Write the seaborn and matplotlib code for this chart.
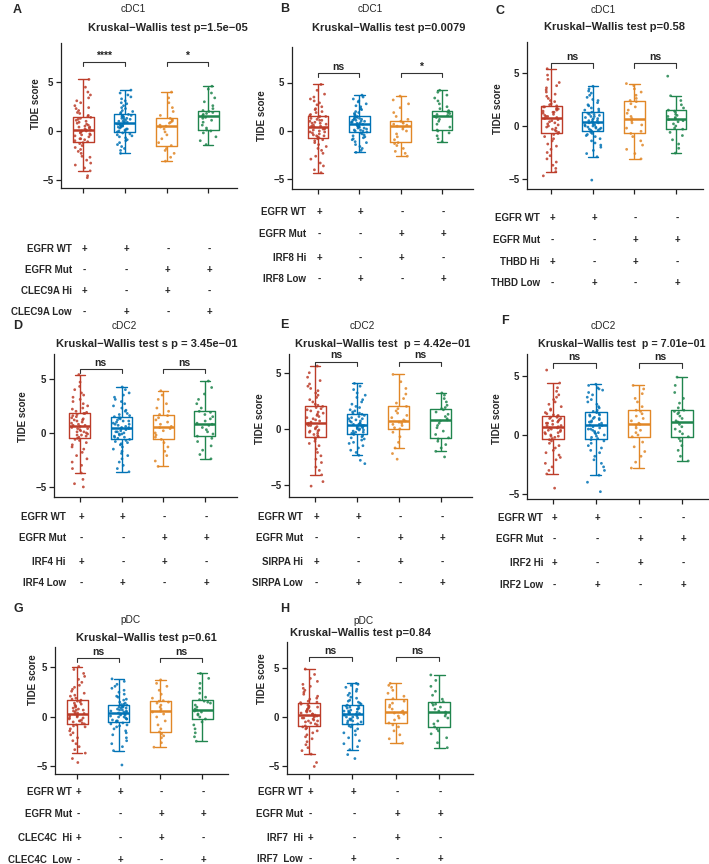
import numpy as np
import pandas as pd
import matplotlib
matplotlib.use("Agg")
import matplotlib.pyplot as plt
import matplotlib.transforms as mtransforms
import seaborn as sns

sns.set_theme(style="ticks")
plt.rcParams["font.family"] = ["Liberation Sans", "DejaVu Sans"]
plt.rcParams["axes.unicode_minus"] = True

# ---------------- data ----------------
groups = ["WT_Hi", "WT_Low", "Mut_Hi", "Mut_Low"]
colors = ["#BC3C29", "#0072B5", "#E18727", "#20854E"]

panel_letters = ["A", "B", "C", "D", "E", "F", "G", "H"]
cell_types = ["cDC1", "cDC1", "cDC1", "cDC2", "cDC2", "cDC2", "pDC", "pDC"]
kw_texts = [
    "Kruskal\u2212Wallis test p=1.5e\u221205",
    "Kruskal\u2212Wallis test p=0.0079",
    "Kruskal\u2212Wallis test p=0.58",
    "Kruskal\u2212Wallis test s p = 3.45e\u221201",
    "Kruskal\u2212Wallis test  p = 4.42e\u221201",
    "Kruskal\u2212Wallis test  p = 7.01e\u221201",
    "Kruskal\u2212Wallis test p=0.61",
    "Kruskal\u2212Wallis test p=0.84",
]
sig_left = ["****", "ns", "ns", "ns", "ns", "ns", "ns", "ns"]
sig_right = ["*", "*", "ns", "ns", "ns", "ns", "ns", "ns"]
hi_labels = ["CLEC9A Hi", "IRF8 Hi", "THBD Hi", "IRF4 Hi", "SIRPA Hi", "IRF2 Hi", "CLEC4C  Hi", "IRF7  Hi"]
low_labels = ["CLEC9A Low", "IRF8 Low", "THBD Low", "IRF4 Low", "SIRPA Low", "IRF2 Low", "CLEC4C  Low", "IRF7  Low"]
signs_wt = ["+", "+", "-", "-"]
signs_mut = ["-", "-", "+", "+"]
signs_hi = ["+", "-", "+", "-"]
signs_low = ["-", "+", "-", "+"]

# box five-number summaries [lower whisker, Q1, median, Q3, upper whisker]
box_A = [[-4.1, -1.1, 0.1, 1.4, 5.3], [-2.3, -0.1, 0.8, 1.7, 4.2], [-3.1, -1.5, 0.5, 1.3, 4.0], [-1.4, 0.1, 1.5, 2.1, 4.6]]
box_B = [[-4.3, -0.75, 0.4, 1.55, 4.8], [-2.2, -0.15, 0.7, 1.5, 3.7], [-2.6, -1.15, 0.5, 1.0, 3.6], [-1.1, 0.1, 1.55, 2.05, 4.2]]
box_C = [[-4.35, -0.7, 0.8, 1.9, 5.4], [-2.9, -0.45, 0.35, 1.3, 3.75], [-3.1, -0.7, 0.7, 2.4, 4.0], [-2.55, -0.3, 0.7, 1.5, 2.85]]
box_D = [[-3.7, -0.5, 0.6, 1.85, 5.4], [-3.6, -0.6, 0.45, 1.5, 4.25], [-3.1, -0.6, 0.55, 1.7, 3.9], [-2.4, -0.3, 0.8, 2.0, 4.8]]
box_E = [[-4.1, -0.7, 0.55, 2.0, 5.6], [-2.35, -0.5, 0.35, 1.35, 4.05], [-1.7, 0.0, 0.7, 2.0, 4.85], [-2.0, -0.8, 0.75, 1.8, 3.2]]
box_F = [[-3.3, -0.3, 0.7, 1.65, 4.4], [-3.4, -0.3, 0.85, 1.95, 4.3], [-2.8, -0.15, 0.9, 2.1, 4.2], [-2.2, -0.15, 1.1, 2.1, 4.9]]
box_G = [[-3.65, -0.7, 0.35, 1.7, 5.1], [-3.4, -0.55, 0.4, 1.25, 3.85], [-3.05, -1.5, 0.6, 1.65, 3.75], [-2.45, -0.2, 0.7, 1.75, 4.4]]
box_H = [[-3.75, -0.9, 0.2, 1.45, 4.85], [-3.3, -0.7, 0.35, 1.2, 3.4], [-2.65, -0.6, 0.5, 1.85, 3.4], [-3.1, -1.0, 0.5, 1.55, 4.25]]

# individual TIDE scores
A_wt_hi = [-4.8, -4.6, -4.1, -3.8, -3.5, -3.3, -3.0, -2.7, -2.6, -2.3, -2.1, -1.9, -1.7, -1.5, -1.3, -1.2,
           -1.1, -1.0, -0.9, -0.8, -0.8, -0.6, -0.5, -0.4, -0.4, -0.3, -0.2, -0.1, 0.0, 0.0, 0.1,
           0.1, 0.2, 0.3, 0.4, 0.4, 0.5, 0.6, 0.7, 0.8, 0.9, 1.0, 1.1, 1.2, 1.3, 1.4,
           1.5, 1.6, 1.8, 1.9, 2.1, 2.3, 2.4, 2.6, 2.9, 3.1, 3.4, 3.7, 4.0, 4.5, 5.3]
A_wt_low = [-2.3, -2.0, -1.8, -1.6, -1.4, -1.2, -1.0, -0.9, -0.7, -0.6, -0.5, -0.4, -0.3, -0.2, -0.1,
            0.0, 0.0, 0.1, 0.2, 0.2, 0.3, 0.4, 0.4, 0.5, 0.5, 0.6, 0.6, 0.7, 0.7, 0.8,
            0.9, 0.9, 1.0, 1.0, 1.1, 1.2, 1.2, 1.3, 1.3, 1.4, 1.5, 1.5, 1.6, 1.6, 1.7,
            1.8, 1.9, 2.0, 2.1, 2.3, 2.4, 2.6, 2.8, 2.9, 3.1, 3.3, 3.5, 3.7, 3.9, 4.2]
A_mut_hi = [-3.1, -2.7, -2.3, -2.0, -1.8, -1.5, -1.2, -0.8, -0.4, -0.1, 0.2, 0.4, 0.5, 0.6, 0.8, 0.9, 1.0,
            1.1, 1.2, 1.3, 1.6, 2.0, 2.4, 2.9, 3.4, 4.0]
A_mut_low = [-1.4, -1.0, -0.6, -0.2, 0.0, 0.1, 0.3, 0.6, 0.9, 1.1, 1.3, 1.4, 1.5, 1.6, 1.7, 1.8, 1.9,
             2.0, 2.1, 2.3, 2.6, 3.0, 3.4, 3.9, 4.3, 4.6]

B_wt_hi = [-4.3, -4.0, -3.6, -3.3, -2.9, -2.6, -2.3, -2.0, -1.8, -1.6, -1.4, -1.2, -1.0, -0.9, -0.8,
           -0.7, -0.6, -0.5, -0.5, -0.4, -0.3, -0.2, -0.1, -0.1, 0.0, 0.1, 0.2, 0.2, 0.3, 0.4,
           0.5, 0.5, 0.6, 0.7, 0.8, 0.8, 0.9, 1.0, 1.1, 1.1, 1.2, 1.3, 1.4, 1.5, 1.5,
           1.6, 1.7, 1.9, 2.0, 2.2, 2.3, 2.5, 2.7, 2.9, 3.1, 3.3, 3.5, 3.8, 4.2, 4.8]
B_wt_low = [-2.2, -2.0, -1.8, -1.6, -1.4, -1.2, -1.1, -0.9, -0.8, -0.7, -0.6, -0.5, -0.4, -0.3, -0.2,
            -0.1, 0.0, 0.0, 0.1, 0.1, 0.2, 0.3, 0.3, 0.4, 0.4, 0.5, 0.5, 0.6, 0.6, 0.7,
            0.8, 0.8, 0.9, 0.9, 1.0, 1.0, 1.1, 1.1, 1.2, 1.2, 1.3, 1.3, 1.4, 1.4, 1.5,
            1.6, 1.7, 1.8, 1.9, 2.0, 2.2, 2.3, 2.5, 2.6, 2.8, 3.0, 3.1, 3.3, 3.5, 3.7]
B_mut_hi = [-2.6, -2.3, -2.1, -1.8, -1.5, -1.3, -1.2, -0.9, -0.6, -0.3, 0.0, 0.2, 0.4, 0.5, 0.6, 0.7, 0.8,
            0.9, 1.0, 1.2, 1.5, 1.9, 2.4, 2.8, 3.2, 3.6]
B_mut_low = [-1.1, -0.8, -0.5, -0.2, 0.0, 0.1, 0.4, 0.7, 1.0, 1.2, 1.4, 1.5, 1.6, 1.7, 1.8, 1.9, 2.0,
             2.1, 2.3, 2.5, 2.8, 3.1, 3.4, 3.7, 4.0, 4.2]

C_wt_hi = [-4.7, -4.3, -4.0, -3.7, -3.4, -3.1, -2.8, -2.5, -2.2, -1.9, -1.7, -1.4, -1.2, -1.0, -0.8, -0.7,
           -0.6, -0.5, -0.4, -0.3, -0.2, -0.1, 0.0, 0.1, 0.2, 0.3, 0.4, 0.5, 0.6, 0.7, 0.8,
           0.9, 0.9, 1.0, 1.1, 1.2, 1.3, 1.3, 1.4, 1.5, 1.6, 1.6, 1.7, 1.8, 1.8, 1.9,
           2.0, 2.1, 2.3, 2.4, 2.6, 2.8, 3.0, 3.2, 3.4, 3.6, 3.8, 4.1, 4.4, 4.8, 5.4]
C_wt_low = [-5.1, -2.9, -2.6, -2.3, -2.0, -1.8, -1.6, -1.4, -1.2, -1.0, -0.9, -0.8, -0.7, -0.6, -0.5,
            -0.4, -0.4, -0.3, -0.3, -0.2, -0.2, -0.1, -0.1, 0.0, 0.0, 0.1, 0.1, 0.2, 0.3, 0.3,
            0.4, 0.4, 0.5, 0.5, 0.6, 0.7, 0.7, 0.8, 0.9, 0.9, 1.0, 1.1, 1.1, 1.2, 1.3,
            1.4, 1.5, 1.6, 1.7, 1.9, 2.0, 2.2, 2.4, 2.5, 2.7, 2.9, 3.1, 3.3, 3.5, 3.75]
C_mut_hi = [-3.1, -2.6, -2.2, -1.8, -1.4, -1.0, -0.7, -0.5, -0.2, 0.1, 0.3, 0.5, 0.7, 0.9, 1.2, 1.5, 1.8,
            2.1, 2.3, 2.4, 2.6, 2.9, 3.2, 3.5, 3.8, 4.0]
C_mut_low = [-2.55, -2.1, -1.7, -1.3, -0.9, -0.6, -0.3, -0.2, 0.0, 0.2, 0.4, 0.5, 0.6, 0.7, 0.8, 0.9, 1.0,
             1.1, 1.3, 1.4, 1.5, 1.7, 2.0, 2.4, 2.85, 4.7]

D_wt_hi = [-5.0, -4.7, -4.3, -3.7, -3.3, -3.0, -2.7, -2.4, -2.1, -1.8, -1.5, -1.3, -1.1, -0.9, -0.7, -0.6,
           -0.5, -0.4, -0.3, -0.2, -0.2, -0.1, 0.0, 0.1, 0.1, 0.2, 0.3, 0.4, 0.4, 0.5, 0.6,
           0.7, 0.7, 0.8, 0.9, 1.0, 1.1, 1.2, 1.2, 1.3, 1.4, 1.5, 1.6, 1.7, 1.8, 1.8,
           1.9, 2.0, 2.2, 2.3, 2.5, 2.7, 2.9, 3.1, 3.3, 3.5, 3.7, 4.0, 4.3, 4.7, 5.4]
D_wt_low = [-3.6, -3.3, -3.0, -2.7, -2.4, -2.1, -1.9, -1.7, -1.5, -1.3, -1.1, -1.0, -0.9, -0.8, -0.7,
            -0.6, -0.5, -0.4, -0.4, -0.3, -0.2, -0.1, -0.1, 0.0, 0.1, 0.1, 0.2, 0.3, 0.4, 0.4,
            0.5, 0.5, 0.6, 0.7, 0.8, 0.8, 0.9, 1.0, 1.1, 1.1, 1.2, 1.3, 1.4, 1.4, 1.5,
            1.6, 1.7, 1.8, 2.0, 2.1, 2.3, 2.5, 2.7, 2.9, 3.1, 3.3, 3.5, 3.7, 4.0, 4.25]
D_mut_hi = [-3.1, -2.6, -2.1, -1.7, -1.3, -0.9, -0.6, -0.4, -0.2, 0.0, 0.2, 0.4, 0.5, 0.6, 0.8, 1.0, 1.2,
            1.4, 1.6, 1.7, 2.0, 2.3, 2.7, 3.1, 3.5, 3.9]
D_mut_low = [-2.4, -2.0, -1.6, -1.2, -0.8, -0.5, -0.3, -0.1, 0.1, 0.3, 0.5, 0.7, 0.8, 0.9, 1.1, 1.3, 1.5,
             1.7, 1.9, 2.0, 2.3, 2.7, 3.1, 3.6, 4.2, 4.8]

E_wt_hi = [-5.1, -4.7, -4.1, -3.7, -3.4, -3.0, -2.7, -2.4, -2.1, -1.8, -1.5, -1.3, -1.1, -0.9, -0.8,
           -0.7, -0.6, -0.5, -0.4, -0.3, -0.2, -0.2, -0.1, 0.0, 0.1, 0.2, 0.3, 0.3, 0.4, 0.5,
           0.6, 0.7, 0.8, 0.9, 1.0, 1.1, 1.2, 1.3, 1.4, 1.5, 1.6, 1.7, 1.8, 1.9, 2.0,
           2.1, 2.2, 2.4, 2.6, 2.8, 3.0, 3.2, 3.4, 3.6, 3.8, 4.0, 4.3, 4.6, 5.0, 5.6]
E_wt_low = [-3.1, -2.8, -2.35, -2.1, -1.9, -1.7, -1.5, -1.3, -1.2, -1.0, -0.9, -0.8, -0.7, -0.6, -0.5,
            -0.4, -0.4, -0.3, -0.3, -0.2, -0.1, -0.1, 0.0, 0.0, 0.1, 0.1, 0.2, 0.2, 0.3, 0.3,
            0.4, 0.4, 0.5, 0.5, 0.6, 0.7, 0.7, 0.8, 0.9, 0.9, 1.0, 1.1, 1.2, 1.3, 1.35,
            1.4, 1.5, 1.6, 1.7, 1.9, 2.0, 2.2, 2.4, 2.6, 2.8, 3.0, 3.2, 3.5, 3.8, 4.05]
E_mut_hi = [-2.7, -2.2, -1.7, -1.2, -0.7, -0.3, 0.0, 0.1, 0.3, 0.4, 0.5, 0.6, 0.7, 0.8, 1.0, 1.2, 1.4,
            1.6, 1.8, 2.0, 2.3, 2.7, 3.1, 3.6, 4.2, 4.85]
E_mut_low = [-2.5, -2.0, -1.7, -1.4, -1.1, -0.9, -0.8, -0.5, -0.2, 0.1, 0.3, 0.5, 0.7, 0.8, 0.9, 1.1, 1.3,
             1.5, 1.7, 1.8, 1.9, 2.1, 2.4, 2.7, 3.0, 3.2]

F_wt_hi = [-4.5, -3.3, -3.0, -2.7, -2.4, -2.1, -1.9, -1.7, -1.5, -1.3, -1.1, -0.9, -0.7, -0.5, -0.4,
           -0.3, -0.2, -0.1, -0.1, 0.0, 0.1, 0.2, 0.2, 0.3, 0.4, 0.4, 0.5, 0.6, 0.6, 0.7,
           0.8, 0.8, 0.9, 1.0, 1.0, 1.1, 1.2, 1.2, 1.3, 1.4, 1.4, 1.5, 1.5, 1.6, 1.65,
           1.7, 1.8, 1.9, 2.1, 2.2, 2.4, 2.6, 2.8, 3.0, 3.2, 3.4, 3.7, 4.0, 4.4, 5.5]
F_wt_low = [-4.8, -4.0, -3.4, -3.0, -2.7, -2.4, -2.1, -1.8, -1.5, -1.3, -1.1, -0.9, -0.7, -0.5, -0.4,
            -0.3, -0.2, -0.1, 0.0, 0.1, 0.2, 0.2, 0.3, 0.4, 0.5, 0.5, 0.6, 0.7, 0.8, 0.85,
            0.9, 1.0, 1.1, 1.1, 1.2, 1.3, 1.4, 1.4, 1.5, 1.6, 1.7, 1.7, 1.8, 1.9, 1.95,
            2.0, 2.1, 2.3, 2.4, 2.6, 2.8, 3.0, 3.2, 3.4, 3.6, 3.8, 3.9, 4.0, 4.2, 4.3]
F_mut_hi = [-2.8, -2.3, -1.8, -1.4, -1.0, -0.6, -0.15, 0.0, 0.2, 0.4, 0.6, 0.8, 0.9, 1.0, 1.2, 1.4, 1.6,
            1.8, 2.0, 2.1, 2.4, 2.8, 3.1, 3.5, 3.9, 4.2]
F_mut_low = [-2.2, -1.8, -1.3, -0.9, -0.5, -0.3, -0.15, 0.1, 0.3, 0.5, 0.7, 0.9, 1.1, 1.2, 1.4, 1.6, 1.8,
             1.9, 2.0, 2.1, 2.3, 2.7, 3.1, 3.6, 4.2, 4.9]

G_wt_hi = [-4.6, -4.2, -3.65, -3.3, -3.0, -2.7, -2.4, -2.1, -1.8, -1.6, -1.4, -1.2, -1.0, -0.9, -0.8,
           -0.7, -0.6, -0.5, -0.4, -0.4, -0.3, -0.2, -0.1, -0.1, 0.0, 0.1, 0.1, 0.2, 0.3, 0.35,
           0.4, 0.5, 0.6, 0.7, 0.7, 0.8, 0.9, 1.0, 1.1, 1.2, 1.3, 1.4, 1.5, 1.6, 1.7,
           1.8, 1.9, 2.1, 2.2, 2.4, 2.6, 2.8, 3.0, 3.2, 3.5, 3.8, 4.1, 4.4, 4.8, 5.1]
G_wt_low = [-4.85, -3.4, -3.0, -2.7, -2.4, -2.1, -1.8, -1.6, -1.4, -1.2, -1.0, -0.9, -0.8, -0.7, -0.6,
            -0.5, -0.4, -0.4, -0.3, -0.2, -0.2, -0.1, 0.0, 0.0, 0.1, 0.2, 0.2, 0.3, 0.3, 0.4,
            0.5, 0.5, 0.6, 0.6, 0.7, 0.7, 0.8, 0.9, 0.9, 1.0, 1.0, 1.1, 1.1, 1.2, 1.25,
            1.3, 1.4, 1.5, 1.7, 1.8, 2.0, 2.1, 2.3, 2.5, 2.7, 2.9, 3.1, 3.3, 3.6, 3.85]
G_mut_hi = [-3.05, -2.6, -2.1, -1.9, -1.7, -1.5, -1.2, -0.8, -0.4, 0.0, 0.3, 0.5, 0.6, 0.8, 1.0, 1.2, 1.4,
            1.5, 1.6, 1.65, 1.9, 2.3, 2.7, 3.1, 3.4, 3.75]
G_mut_low = [-2.45, -2.0, -1.6, -1.2, -0.8, -0.5, -0.2, 0.0, 0.2, 0.3, 0.5, 0.6, 0.7, 0.8, 1.0, 1.2, 1.4,
             1.5, 1.6, 1.75, 2.0, 2.4, 2.9, 3.4, 3.9, 4.4]

H_wt_hi = [-5.0, -4.6, -3.75, -3.4, -3.1, -2.8, -2.5, -2.2, -2.0, -1.8, -1.6, -1.4, -1.2, -1.1, -1.0,
           -0.9, -0.8, -0.7, -0.6, -0.5, -0.4, -0.4, -0.3, -0.2, -0.1, -0.1, 0.0, 0.1, 0.1, 0.2,
           0.3, 0.3, 0.4, 0.5, 0.6, 0.6, 0.7, 0.8, 0.9, 1.0, 1.0, 1.1, 1.2, 1.3, 1.45,
           1.5, 1.6, 1.8, 1.9, 2.1, 2.3, 2.5, 2.7, 2.9, 3.1, 3.3, 3.6, 3.9, 4.3, 4.85]
H_wt_low = [-4.2, -3.8, -3.3, -3.0, -2.7, -2.4, -2.1, -1.8, -1.6, -1.4, -1.2, -1.0, -0.9, -0.8, -0.7,
            -0.6, -0.5, -0.4, -0.4, -0.3, -0.2, -0.2, -0.1, 0.0, 0.0, 0.1, 0.2, 0.2, 0.3, 0.35,
            0.4, 0.4, 0.5, 0.5, 0.6, 0.6, 0.7, 0.8, 0.8, 0.9, 0.9, 1.0, 1.1, 1.1, 1.2,
            1.3, 1.4, 1.5, 1.6, 1.7, 1.9, 2.0, 2.2, 2.4, 2.6, 2.8, 3.0, 3.2, 3.3, 3.4]
H_mut_hi = [-2.65, -2.2, -1.8, -1.4, -1.0, -0.8, -0.6, -0.3, -0.1, 0.1, 0.3, 0.4, 0.5, 0.6, 0.8, 1.0, 1.2,
            1.4, 1.6, 1.85, 2.1, 2.4, 2.7, 3.0, 3.2, 3.4]
H_mut_low = [-3.1, -2.6, -2.1, -1.7, -1.4, -1.2, -1.0, -0.7, -0.4, -0.1, 0.1, 0.3, 0.5, 0.6, 0.8, 1.0, 1.2,
             1.3, 1.4, 1.55, 1.8, 2.2, 2.6, 3.1, 3.7, 4.25]

box_stats = [box_A, box_B, box_C, box_D, box_E, box_F, box_G, box_H]
point_sets = [
    [A_wt_hi, A_wt_low, A_mut_hi, A_mut_low],
    [B_wt_hi, B_wt_low, B_mut_hi, B_mut_low],
    [C_wt_hi, C_wt_low, C_mut_hi, C_mut_low],
    [D_wt_hi, D_wt_low, D_mut_hi, D_mut_low],
    [E_wt_hi, E_wt_low, E_mut_hi, E_mut_low],
    [F_wt_hi, F_wt_low, F_mut_hi, F_mut_low],
    [G_wt_hi, G_wt_low, G_mut_hi, G_mut_low],
    [H_wt_hi, H_wt_low, H_mut_hi, H_mut_low],
]

# ---------------- layout (pixels) ----------------
W, H = 709, 864
layouts = [
    dict(ax=(61, 43, 237, 188), xlim=(-0.53, 3.69), ylim=(-5.86, 9.04), letter=(13, 4), sub=(133, 9),
         kw=(168, 28), kws=8.0, ylab=(36, 104), tr=72, rows=(249, 270, 291, 312), br=7.1),
    dict(ax=(292, 47, 473, 189), xlim=(-0.63, 3.75), ylim=(-5.98, 8.66), letter=(280, 3), sub=(370, 9),
         kw=(389, 28), kws=8.0, ylab=(262, 116), tr=306, rows=(212, 234, 258, 279), br=6.0),
    dict(ax=(527, 42, 703, 189), xlim=(-0.58, 3.65), ylim=(-5.94, 7.92), letter=(495, 5), sub=(603, 10),
         kw=(614, 27), kws=8.0, ylab=(498, 109), tr=540, rows=(218, 240, 262, 283), br=5.9),
    dict(ax=(54, 354, 237, 497), xlim=(-0.62, 3.77), ylim=(-5.93, 7.3), letter=(13, 320), sub=(124, 326),
         kw=(147, 344), kws=8.0, ylab=(23, 417), tr=66, rows=(517, 538, 562, 583), br=5.9),
    dict(ax=(289, 354, 472, 497), xlim=(-0.62, 3.74), ylim=(-6.07, 6.67), letter=(280, 319), sub=(362, 326),
         kw=(383, 344), kws=8.0, ylab=(260, 419), tr=303, rows=(517, 538, 562, 583), br=6.0),
    dict(ax=(527, 354, 709, 499), xlim=(-0.6, 3.63), ylim=(-5.42, 6.86), letter=(501, 315), sub=(603, 326),
         kw=(622, 344), kws=7.7, ylab=(497, 419), tr=543, rows=(518, 539, 563, 585), br=6.1),
    dict(ax=(55, 647, 228, 774), xlim=(-0.53, 3.62), ylim=(-5.76, 7.07), letter=(13, 603), sub=(130, 620),
         kw=(146, 638), kws=8.0, ylab=(33, 680), tr=72, rows=(792, 814, 838, 860), br=5.93),
    dict(ax=(287, 642, 473, 774), xlim=(-0.51, 3.78), ylim=(-5.76, 7.58), letter=(280, 603), sub=(363, 621),
         kw=(360, 633), kws=8.0, ylab=(262, 679), tr=303, rows=(792, 814, 838, 859), br=6.03),
]

fig = plt.figure(figsize=(W / 100, H / 100), dpi=100)
fig.patch.set_facecolor("white")


def fx(px):
    return px / W


def fy(py):
    return 1 - py / H


for i, lay in enumerate(layouts):
    l, t, r, b = lay["ax"]
    ax = fig.add_axes([fx(l), fy(b), (r - l) / W, (b - t) / H])
    ax.set_facecolor("white")

    box_df = pd.DataFrame({
        "group": np.repeat(groups, 5),
        "value": np.concatenate(box_stats[i]),
    })
    pts = point_sets[i]
    pts_df = pd.DataFrame({
        "group": np.concatenate([[g] * len(p) for g, p in zip(groups, pts)]),
        "value": np.concatenate(pts),
    })

    sns.boxplot(data=box_df, x="group", y="value", hue="group", order=groups, hue_order=groups,
                palette=colors, fill=False, whis=np.inf, width=0.5, linewidth=1.0,
                showfliers=False, legend=False, ax=ax, medianprops={"linewidth": 1.8})
    sns.stripplot(data=pts_df, x="group", y="value", hue="group", order=groups, hue_order=groups,
                  palette=colors, size=2.0, jitter=0.2, alpha=0.85, linewidth=0, legend=False,
                  ax=ax, zorder=3)

    ax.set_xlim(*lay["xlim"])
    ax.set_ylim(*lay["ylim"])
    ax.set_xticks(range(4))
    ax.set_xticklabels([])
    ax.set_yticks([-5, 0, 5])
    ax.set_yticklabels(["\u22125", "0", "5"], fontsize=7, fontweight="bold")
    ax.set_xlabel("")
    ax.set_ylabel("")
    for side in ["top", "right"]:
        ax.spines[side].set_visible(False)
    for side in ["left", "bottom"]:
        ax.spines[side].set_color("#222222")
        ax.spines[side].set_linewidth(0.9)
    ax.tick_params(axis="both", direction="out", length=3.5, width=0.9, color="#222222", pad=2)

    # significance brackets
    for (x0, x1, s) in [(0, 1, sig_left[i]), (2, 3, sig_right[i])]:
        yb = lay["br"]
        ax.plot([x0, x0, x1, x1], [yb - 0.4, yb, yb, yb - 0.4], color="#333333", lw=0.8,
                clip_on=False, zorder=4)
        ax.text((x0 + x1) / 2, yb + 0.1, s, ha="center", va="bottom", fontsize=7.5,
                fontweight="bold", color="#222222")

    # texts
    lx, ly = lay["letter"]
    fig.text(fx(lx), fy(ly), panel_letters[i], ha="left", va="top", fontsize=9, fontweight="bold")
    sx, sy = lay["sub"]
    fig.text(fx(sx), fy(sy), cell_types[i], ha="center", va="center", fontsize=7.3)
    kx, ky = lay["kw"]
    fig.text(fx(kx), fy(ky), kw_texts[i], ha="center", va="center", fontsize=lay["kws"],
             fontweight="bold")
    yx, yy = lay["ylab"]
    fig.text(fx(yx), fy(yy), "TIDE score", ha="center", va="center", rotation=90, fontsize=7,
             fontweight="bold")

    # +/- table
    trans = mtransforms.blended_transform_factory(ax.transData, fig.transFigure)
    row_names = ["EGFR WT", "EGFR Mut", hi_labels[i], low_labels[i]]
    row_signs = [signs_wt, signs_mut, signs_hi, signs_low]
    for ry, name, signs in zip(lay["rows"], row_names, row_signs):
        fig.text(fx(lay["tr"]), fy(ry), name, ha="right", va="center", fontsize=7, fontweight="bold")
        for k, s in enumerate(signs):
            ax.text(k + 0.03, fy(ry), s, transform=trans, ha="center", va="center", fontsize=7,
                    fontweight="bold", clip_on=False)

fig.savefig("out.png", dpi=100, facecolor="white")
